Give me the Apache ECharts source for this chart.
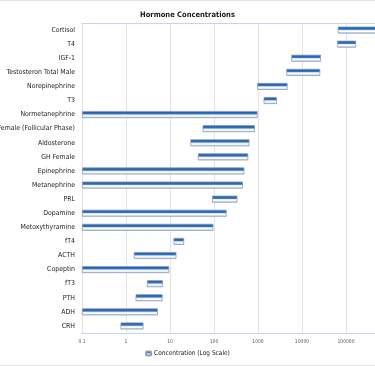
<!DOCTYPE html>
<html>
<head>
<meta charset="utf-8">
<script src="https://cdn.jsdelivr.net/npm/echarts@6/dist/echarts.min.js"></script>
<style>html,body{margin:0;padding:0;background:#fff}#c{width:375px;height:366px}</style>
</head>
<body>
<div id="c"></div>
<script>
var categories = ["Cortisol","T4","IGF-1","Testosteron Total Male","Norepinephrine","T3","Normetanephrine","Female (Follicular Phase)","Aldosterone","GH Female","Epinephrine","Metanephrine","PRL","Dopamine","Metoxythyramine","fT4","ACTH","Copeptin","fT3","PTH","ADH","CRH"];
var lowValues  = [65000, 63000, 5700, 4400, 960, 1340, 0.1, 55, 29, 43, 0.1, 0.1, 90, 0.1, 0.1, 12, 1.5, 0.1, 3, 1.65, 0.1, 0.75];
var highValues = [650000, 170000, 27000, 26000, 4700, 2700, 980, 850, 640, 600, 490, 455, 340, 194, 97, 21, 14, 9.6, 6.9, 6.8, 5.3, 2.5];

var spans = highValues.map(function(h, i){ return h - lowValues[i]; });
var FONT = "'Liberation Sans Narrow','DejaVu Sans Condensed','Open Sans',sans-serif";
var barGrad = new echarts.graphic.LinearGradient(0,0,0,1,[
  {offset:0, color:'#17539f'},
  {offset:0.4, color:'#3574c0'},
  {offset:0.55, color:'#e8eff8'},
  {offset:0.7, color:'#ffffff'},
  {offset:1, color:'#a3bfe2'}
]);
var chart = echarts.init(document.getElementById('c'), null, {renderer:'canvas'});
chart.setOption({
  animation:false,
  title:{text:'Hormone Concentrations', left:'center', top:6,
    textStyle:{fontSize:7.5, fontWeight:'bold', color:'#1a1a1a', fontFamily:FONT}},
  legend:{bottom:4, left:'center', itemWidth:5, itemHeight:4, itemGap:3,
    data:['Concentration (Log Scale)'],
    textStyle:{fontSize:6.5, color:'#222', fontFamily:FONT, padding:[0,0,0,-2]}},
  grid:{left:82, right:-15, top:23, bottom:33, containLabel:false, outerBoundsMode:'none'},
  xAxis:[{
    type:'log', logBase:10, min:0.1, max:1000000, position:'bottom',
    axisLine:{show:true, lineStyle:{color:'#c5d5ea', width:1}},
    axisTick:{show:false},
    axisLabel:{fontSize:5, color:'#555', fontFamily:FONT, margin:6,
      formatter:function(v){ return v < 1 ? String(Math.round(v*10)/10) : String(Math.round(v)); }},
    splitLine:{show:true, lineStyle:{color:'#e3e3e3', width:1}},
    minorSplitLine:{show:false}
  },{
    type:'log', logBase:10, min:0.1, max:1000000, position:'top',
    axisLine:{show:true, lineStyle:{color:'#c5d5ea', width:1}},
    axisTick:{show:false}, axisLabel:{show:false}, splitLine:{show:false}
  }],
  yAxis:{
    type:'category', data:categories, inverse:true,
    axisLine:{show:false}, axisTick:{show:false},
    axisLabel:{fontSize:6.9, color:'#222', fontFamily:FONT, margin:7, interval:0}
  },
  series:[{
    name:'base', type:'bar', stack:'r', data:lowValues, barWidth:7,
    itemStyle:{color:'rgba(0,0,0,0)'}, silent:true, legendHoverLink:false
  },{
    name:'Concentration (Log Scale)', type:'bar', stack:'r', data:spans, barWidth:7,
    itemStyle:{color:barGrad, borderColor:'#8e9cb0', borderWidth:0.8}
  }],
  graphic:[{type:'rect', shape:{x:-5, y:0.5, width:400, height:365}, style:{fill:'none', stroke:'#e2e2e2', lineWidth:1}, silent:true}]
});
</script>
</body>
</html>
